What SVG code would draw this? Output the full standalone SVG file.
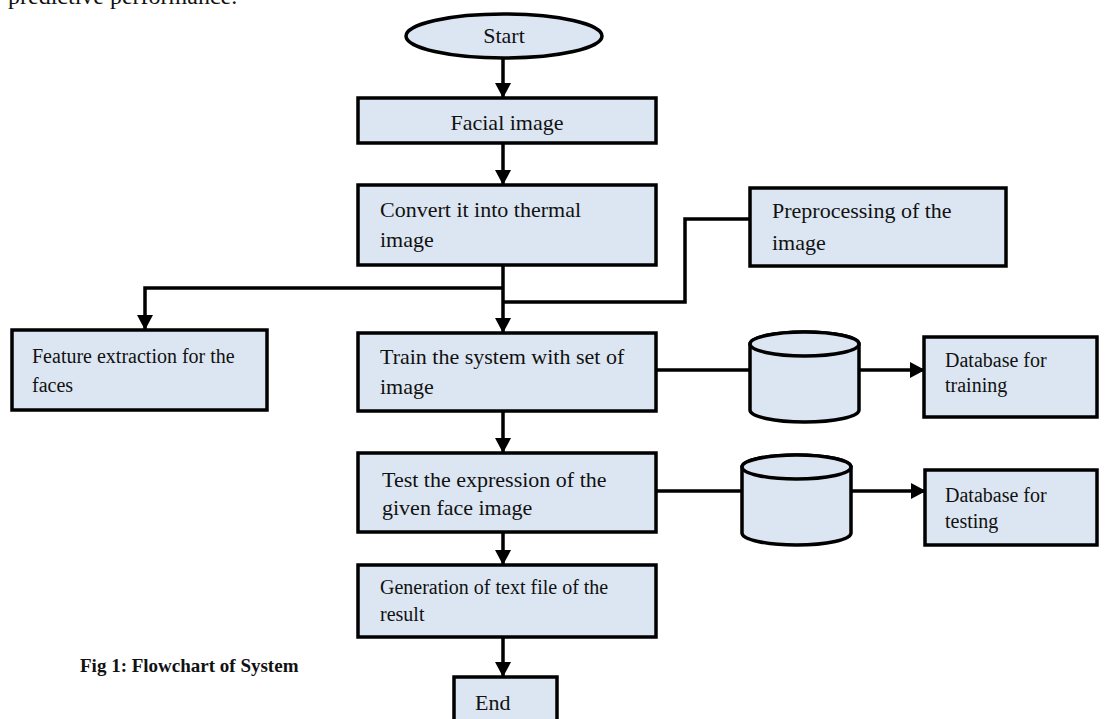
<svg xmlns="http://www.w3.org/2000/svg" width="1118" height="719" viewBox="0 0 1118 719">
<style>
.box{fill:#dce6f2;stroke:#000;stroke-width:3.5}
.t{font-family:"Liberation Serif","Times New Roman",serif;font-size:22px;fill:#111}
.s{font-family:"Liberation Serif","Times New Roman",serif;font-size:20px;fill:#111}
.ln{fill:none;stroke:#000;stroke-width:3.5}
</style>
<defs>
<marker id="ah" markerWidth="15" markerHeight="16" refX="14" refY="8" orient="auto" markerUnits="userSpaceOnUse"><path d="M0,0 L15,8 L0,16 z" fill="#000"/></marker>
<clipPath id="clipTest"><rect x="925" y="470" width="175" height="63"/></clipPath>
</defs>
<rect width="1118" height="719" fill="#fff"/>
<text x="8" y="4" style="font-family:'Liberation Serif','Times New Roman',serif;font-size:24px" fill="#111">predictive performance.</text>

<g id="connectors">
<line class="ln" x1="503" y1="59" x2="503" y2="97" marker-end="url(#ah)"/>
<line class="ln" x1="503" y1="143" x2="503" y2="184" marker-end="url(#ah)"/>
<line class="ln" x1="503" y1="265" x2="503" y2="332" marker-end="url(#ah)"/>
<polyline class="ln" points="503,288 145,288 145,329" marker-end="url(#ah)"/>
<polyline class="ln" points="503,302 685,302 685,219 750,219"/>
<line class="ln" x1="656" y1="370" x2="750" y2="370"/>
<line class="ln" x1="859" y1="370" x2="924" y2="370" marker-end="url(#ah)"/>
<line class="ln" x1="503" y1="411" x2="503" y2="452" marker-end="url(#ah)"/>
<line class="ln" x1="656" y1="491" x2="742" y2="491"/>
<line class="ln" x1="851" y1="491" x2="925" y2="491" marker-end="url(#ah)"/>
<line class="ln" x1="503" y1="532" x2="503" y2="564" marker-end="url(#ah)"/>
<line class="ln" x1="503" y1="637" x2="503" y2="676" marker-end="url(#ah)"/>
</g>

<g id="start">
<ellipse class="box" cx="504" cy="36" rx="98" ry="22"/>
<text class="t" x="504" y="43" text-anchor="middle">Start</text>
</g>
<g id="facial">
<rect class="box" x="358" y="98" width="298" height="45"/>
<text class="t" x="507" y="130" text-anchor="middle">Facial image</text>
</g>
<g id="convert">
<rect class="box" x="358" y="185" width="298" height="80"/>
<text class="t" x="380" y="217">Convert it into thermal</text>
<text class="t" x="380" y="247">image</text>
</g>
<g id="preprocessing">
<rect class="box" x="750" y="188" width="256" height="78"/>
<text class="t" x="772" y="218">Preprocessing of the</text>
<text class="t" x="772" y="250">image</text>
</g>
<g id="feature">
<rect class="box" x="12" y="330" width="255" height="80"/>
<text class="s" x="32" y="363">Feature extraction for the</text>
<text class="s" x="32" y="392">faces</text>
</g>
<g id="train">
<rect class="box" x="358" y="333" width="298" height="78"/>
<text class="t" x="380" y="364">Train the system with set of</text>
<text class="t" x="380" y="394">image</text>
</g>
<g id="db1">
<path class="box" d="M750,344 L750,410 A54.5,12 0 0 0 859,410 L859,344 A54.5,12 0 0 0 750,344 Z"/>
<ellipse class="box" cx="804.5" cy="344" rx="54.5" ry="12"/>
</g>
<g id="dbtraining">
<rect class="box" x="924" y="337" width="173" height="80"/>
<text class="s" x="945" y="367">Database for</text>
<text class="s" x="945" y="392">training</text>
</g>
<g id="test">
<rect class="box" x="358" y="453" width="298" height="79"/>
<text class="t" x="382" y="487">Test the expression of the</text>
<text class="t" x="382" y="515">given face image</text>
</g>
<g id="db2">
<path class="box" d="M742,467 L742,533 A54.5,12 0 0 0 851,533 L851,467 A54.5,12 0 0 0 742,467 Z"/>
<ellipse class="box" cx="796.5" cy="467" rx="54.5" ry="12"/>
</g>
<g id="dbtesting">
<rect class="box" x="925" y="470" width="172" height="75"/>
<g clip-path="url(#clipTest)">
<text class="s" x="945" y="502">Database for</text>
<text class="s" x="945" y="528">testing</text>
</g>
</g>
<g id="generation">
<rect class="box" x="358" y="565" width="298" height="72"/>
<text class="s" x="380" y="594">Generation of text file of the</text>
<text class="s" x="380" y="621">result</text>
</g>
<g id="end">
<rect class="box" x="454" y="677" width="103" height="50"/>
<text class="t" x="475" y="710">End</text>
</g>
<text x="80" y="672" style="font-family:'Liberation Serif','Times New Roman',serif;font-size:19px;font-weight:bold" fill="#111">Fig 1: Flowchart of System</text>
</svg>
